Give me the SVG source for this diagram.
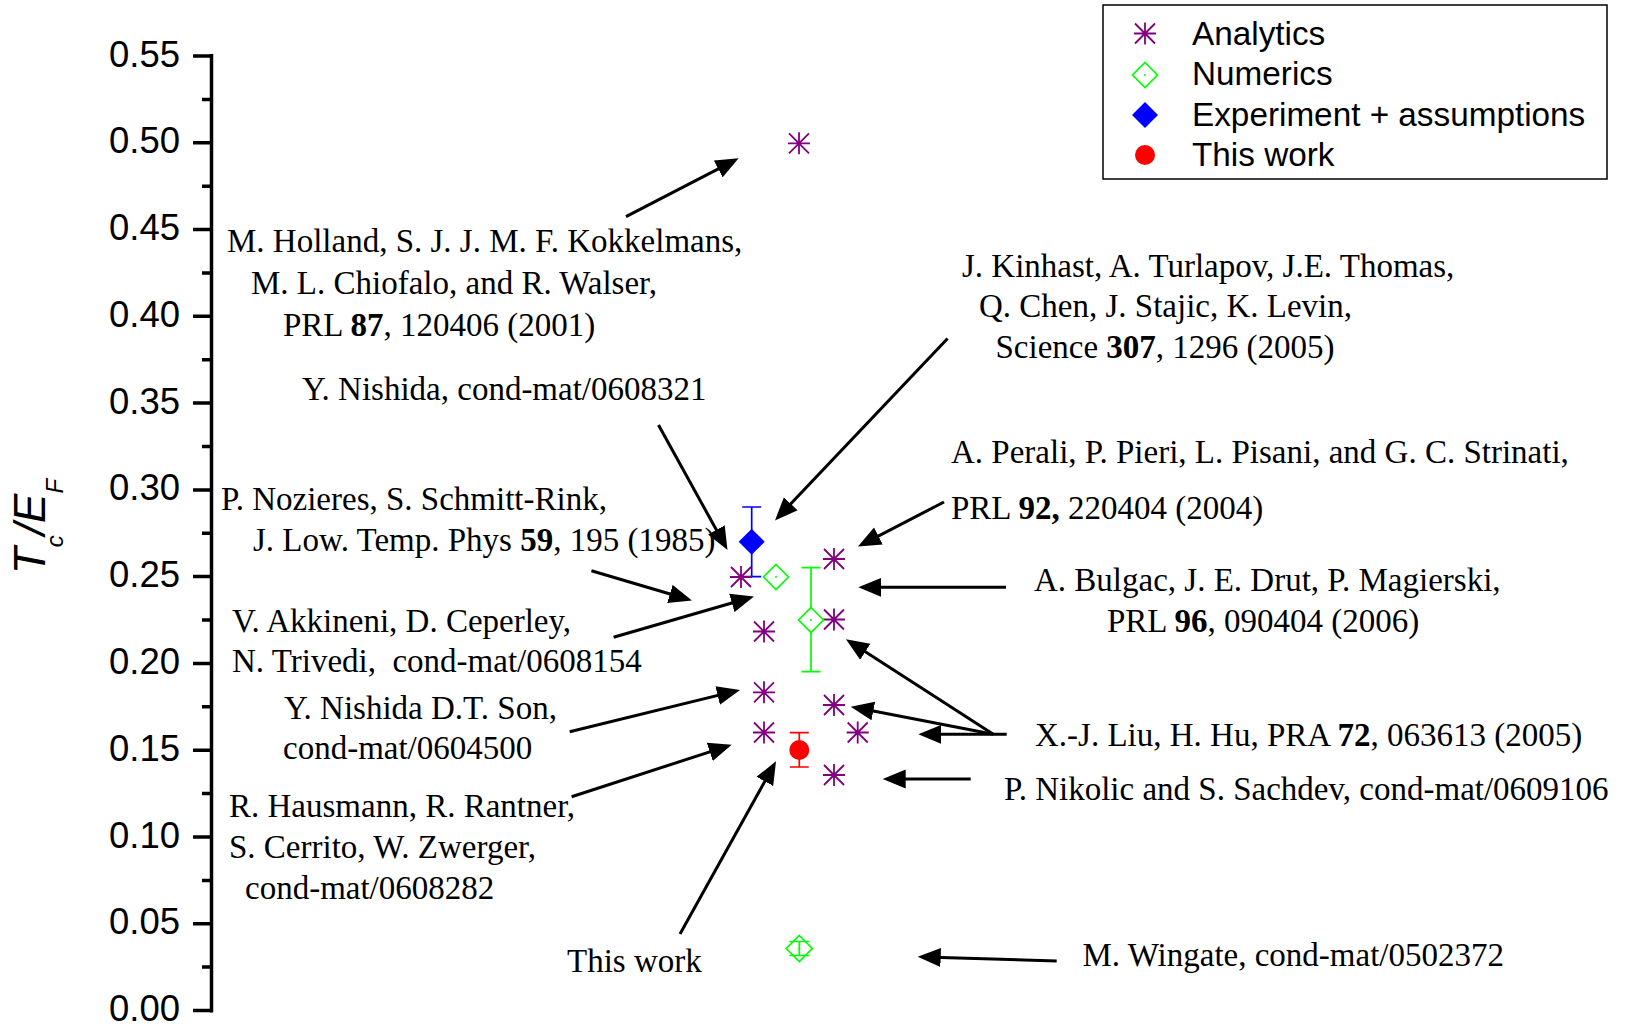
<svg xmlns="http://www.w3.org/2000/svg" width="1629" height="1024" viewBox="0 0 1629 1024">
<defs>
<style>
.ref{font-family:"Liberation Serif","Times New Roman",serif;font-size:33px;fill:#000}
.tick{font-family:"Liberation Sans",Arial,sans-serif;font-size:36.5px;fill:#000;text-anchor:end}
.leg{font-family:"Liberation Sans",Arial,sans-serif;font-size:33.3px;fill:#000}
.ax{stroke:#000;stroke-width:3.5;fill:none}
.arr{stroke:#000;stroke-width:3;fill:none;marker-end:url(#ah)}
.star{stroke:#800080;stroke-width:1.8;fill:none}
.num{stroke:#00ff00;stroke-width:1.7;fill:#fff}
.numerr{stroke:#00ff00;stroke-width:1.7;fill:none}
.exp{fill:#0000ff;stroke:none}
.experr{stroke:#0000ff;stroke-width:1.7;fill:none}
.tw{fill:#ff0000;stroke:none}
.twerr{stroke:#ff0000;stroke-width:1.7;fill:none}
</style>
<marker id="ah" markerUnits="userSpaceOnUse" markerWidth="24" markerHeight="20" viewBox="0 0 24 20" refX="17" refY="10" orient="auto"><path d="M0,0.5 L23,10 L0,19.5 z" fill="#000"/></marker>
<g id="sym-star"><path d="M-11,0 H11 M0,-11 V11 M-10,-10 L10,10 M-10,10 L10,-10"/></g>
<g id="sym-dia"><path d="M0,-12.5 L12.5,0 L0,12.5 L-12.5,0 z"/></g>
</defs>
<rect width="1629" height="1024" fill="#fff"/>

<g id="axis">
<path class="ax" d="M211.5,54 V1012.5"/>
<path class="ax" d="M193,1010.5 H211.5 M193,923.7 H211.5 M193,837 H211.5 M193,750.2 H211.5 M193,663.4 H211.5 M193,576.6 H211.5 M193,489.9 H211.5 M193,403.1 H211.5 M193,316.3 H211.5 M193,229.6 H211.5 M193,142.8 H211.5 M193,56 H211.5"/>
<path class="ax" d="M202,967.1 H211.5 M202,880.4 H211.5 M202,793.6 H211.5 M202,706.8 H211.5 M202,620 H211.5 M202,533.3 H211.5 M202,446.5 H211.5 M202,359.7 H211.5 M202,273 H211.5 M202,186.2 H211.5 M202,99.4 H211.5"/>
<text class="tick" x="180" y="1020.5">0.00</text>
<text class="tick" x="180" y="934">0.05</text>
<text class="tick" x="180" y="847.5">0.10</text>
<text class="tick" x="180" y="760.7">0.15</text>
<text class="tick" x="180" y="673.9">0.20</text>
<text class="tick" x="180" y="587.1">0.25</text>
<text class="tick" x="180" y="500.4">0.30</text>
<text class="tick" x="180" y="413.6">0.35</text>
<text class="tick" x="180" y="326.8">0.40</text>
<text class="tick" x="180" y="240.1">0.45</text>
<text class="tick" x="180" y="153.3">0.50</text>
<text class="tick" x="180" y="66.5">0.55</text>
<text transform="translate(45,526.5) rotate(-90)" text-anchor="middle" font-family="Liberation Sans, Arial, sans-serif" font-style="italic" font-size="44">T<tspan font-size="24" dy="18">c</tspan><tspan dy="-18">/E</tspan><tspan font-size="24" dy="18">F</tspan></text>
</g>

<g id="legend">
<rect x="1103" y="5" width="504" height="174" fill="#fff" stroke="#000" stroke-width="1.5"/>
<use href="#sym-star" class="star" transform="translate(1145,33.5)"/>
<use href="#sym-dia" class="num" transform="translate(1145,75)"/>
<circle cx="1145" cy="75" r="1" fill="#00ff00"/>
<path d="M1145,102 L1158,115 L1145,128 L1132,115 z" class="exp"/>
<circle cx="1145" cy="155" r="10" class="tw"/>
<text class="leg" x="1192" y="44.5">Analytics</text>
<text class="leg" x="1192" y="85">Numerics</text>
<text class="leg" x="1192" y="125.5">Experiment + assumptions</text>
<text class="leg" x="1192" y="166">This work</text>
</g>

<g id="data">
<g id="errorbars">
<path class="experr" d="M751.7,507 V576.7 M742.2,507 H761.2 M742.2,576.7 H761.2"/>
<path class="numerr" d="M811,567.7 V671.7 M801.5,567.7 H820.5 M801.5,671.7 H820.5"/>
<path class="twerr" d="M799.3,732.7 V767 M789.8,732.7 H808.8 M789.8,767 H808.8"/>
<path class="numerr" d="M799.3,941.5 V955.5 M789.3,941.5 H809.3 M789.3,955.5 H809.3"/>
</g>
<g id="analytics">
<use href="#sym-star" class="star" transform="translate(799,143.3)"/>
<use href="#sym-star" class="star" transform="translate(741,577)"/>
<use href="#sym-star" class="star" transform="translate(834,559)"/>
<use href="#sym-star" class="star" transform="translate(834,619.5)"/>
<use href="#sym-star" class="star" transform="translate(764,631.5)"/>
<use href="#sym-star" class="star" transform="translate(764,692.3)"/>
<use href="#sym-star" class="star" transform="translate(834,705)"/>
<use href="#sym-star" class="star" transform="translate(764,732.5)"/>
<use href="#sym-star" class="star" transform="translate(857.7,732.5)"/>
<use href="#sym-star" class="star" transform="translate(834,775)"/>
</g>
<g id="numerics">
<use href="#sym-dia" class="num" transform="translate(776,577)"/>
<circle cx="776" cy="577" r="1" fill="#00ff00"/>
<use href="#sym-dia" class="num" transform="translate(811,620)"/>
<circle cx="811" cy="620" r="1" fill="#00ff00"/>
<path d="M799.3,935.5 L812.3,948.5 L799.3,961.5 L786.3,948.5 z" stroke="#00ff00" stroke-width="1.7" fill="none"/>
<circle cx="799.3" cy="948.5" r="1" fill="#00ff00"/>
</g>
<g id="experiment">
<path class="exp" d="M751.7,528.7 L764.7,541.7 L751.7,554.7 L738.7,541.7 z"/>
</g>
<g id="thiswork">
<circle cx="799.3" cy="750" r="10" class="tw"/>
</g>
</g>

<g id="connectors">
<path class="arr" d="M626,216.7 L733.3,161.1"/>
<path class="arr" d="M947.6,338.5 L779.1,516.1"/>
<path class="arr" d="M658.5,425 L724.6,544.8"/>
<path class="arr" d="M591.4,570.7 L686.2,598.8"/>
<path class="arr" d="M613.6,637.3 L748.2,598.2"/>
<path class="arr" d="M944,502 L863.3,543.8"/>
<path class="arr" d="M1006,587.3 L864.3,587.3"/>
<path class="arr" d="M993.3,734.3 L851,642.6"/>
<path class="arr" d="M993.3,734.3 L856.6,707.8"/>
<path class="arr" d="M1006.7,734.3 L924.3,734.3"/>
<path class="arr" d="M970.7,779 L888.7,779"/>
<path class="arr" d="M569.7,731.7 L734.2,691.4"/>
<path class="arr" d="M571.6,796.7 L726,746.6"/>
<path class="arr" d="M680,934 L773.1,766.5"/>
<path class="arr" d="M1056.7,961 L923.7,956.9"/>
</g>

<g id="label-holland">
<text class="ref" x="227" y="252">M. Holland, S. J. J. M. F. Kokkelmans,</text>
<text class="ref" x="251" y="294">M. L. Chiofalo, and R. Walser,</text>
<text class="ref" x="283" y="336">PRL <tspan font-weight="bold">87</tspan>, 120406 (2001)</text>
</g>
<g id="label-nishida1">
<text class="ref" x="302" y="399.5">Y. Nishida, cond-mat/0608321</text>
</g>
<g id="label-nozieres">
<text class="ref" x="221" y="510">P. Nozieres, S. Schmitt-Rink,</text>
<text class="ref" x="253" y="551">J. Low. Temp. Phys <tspan font-weight="bold">59</tspan>, 195 (1985)</text>
</g>
<g id="label-akkineni">
<text class="ref" x="232" y="631.5">V. Akkineni, D. Ceperley,</text>
<text class="ref" x="232" y="672" style="white-space:pre">N. Trivedi,  cond-mat/0608154</text>
</g>
<g id="label-nishida2">
<text class="ref" x="284" y="718.5">Y. Nishida D.T. Son,</text>
<text class="ref" x="283" y="759">cond-mat/0604500</text>
</g>
<g id="label-hausmann">
<text class="ref" x="229" y="816.5">R. Hausmann, R. Rantner,</text>
<text class="ref" x="229" y="857.5">S. Cerrito, W. Zwerger,</text>
<text class="ref" x="245" y="899">cond-mat/0608282</text>
</g>
<g id="label-thiswork">
<text class="ref" x="567" y="972">This work</text>
</g>
<g id="label-kinhast">
<text class="ref" x="962" y="276.5">J. Kinhast, A. Turlapov, J.E. Thomas,</text>
<text class="ref" x="979" y="316.5">Q. Chen, J. Stajic, K. Levin,</text>
<text class="ref" x="995.5" y="358">Science <tspan font-weight="bold">307</tspan>, 1296 (2005)</text>
</g>
<g id="label-perali">
<text class="ref" x="951" y="463">A. Perali, P. Pieri, L. Pisani, and G. C. Strinati,</text>
<text class="ref" x="951" y="519">PRL <tspan font-weight="bold">92,</tspan> 220404 (2004)</text>
</g>
<g id="label-bulgac">
<text class="ref" x="1034" y="591">A. Bulgac, J. E. Drut, P. Magierski,</text>
<text class="ref" x="1107" y="632">PRL <tspan font-weight="bold">96</tspan>, 090404 (2006)</text>
</g>
<g id="label-liu">
<text class="ref" x="1035" y="746">X.-J. Liu, H. Hu, PRA <tspan font-weight="bold">72</tspan>, 063613 (2005)</text>
</g>
<g id="label-nikolic">
<text class="ref" x="1004" y="799.5">P. Nikolic and S. Sachdev, cond-mat/0609106</text>
</g>
<g id="label-wingate">
<text class="ref" x="1082.5" y="966">M. Wingate, cond-mat/0502372</text>
</g>
</svg>
